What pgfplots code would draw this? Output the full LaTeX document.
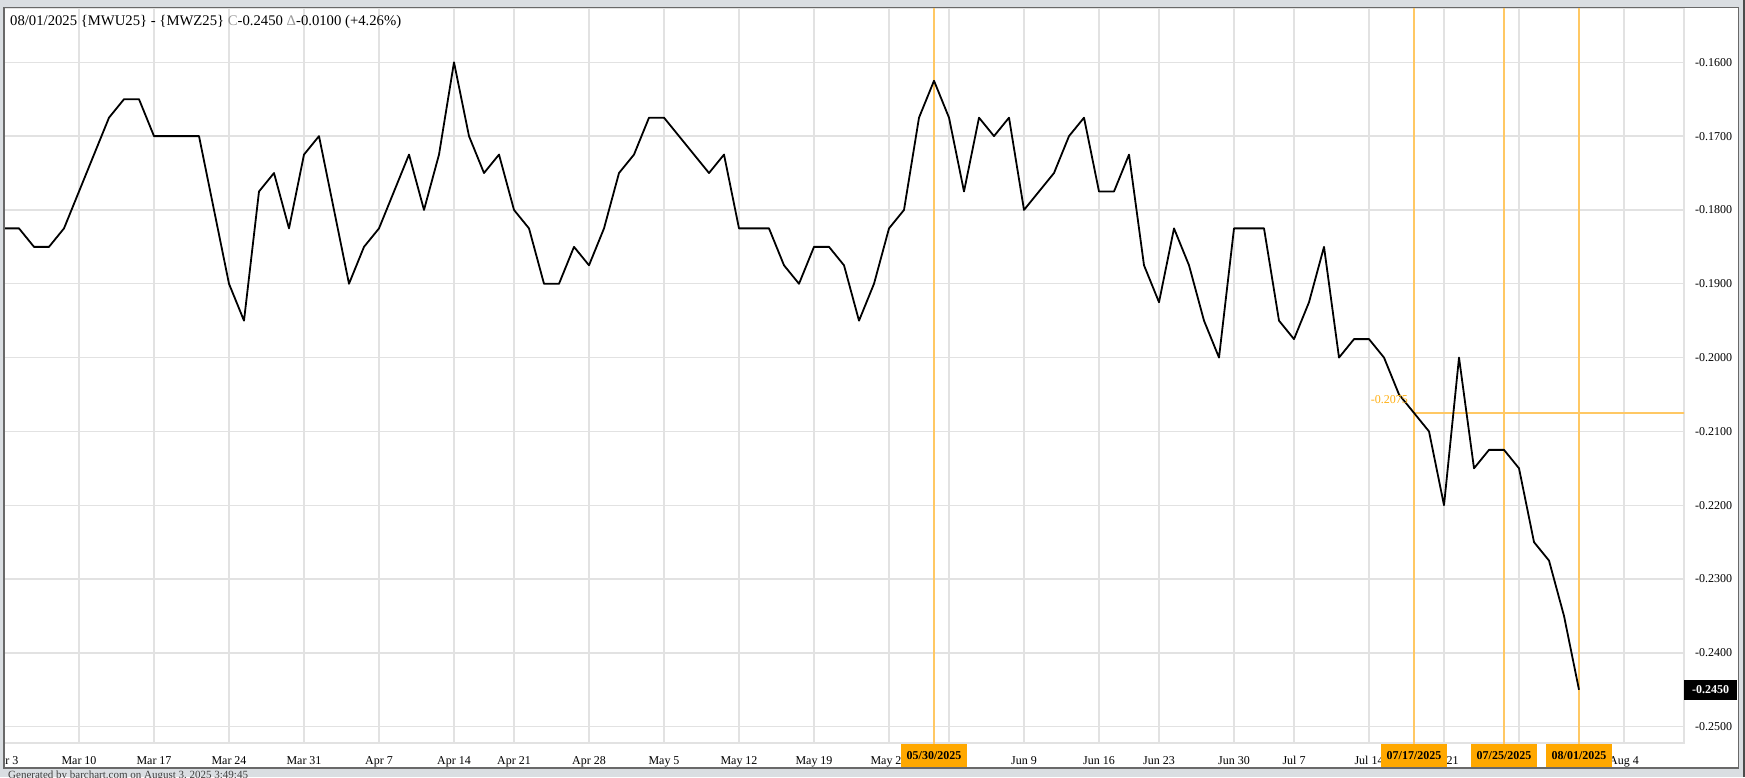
\documentclass[border=0pt]{standalone}
\usepackage{pgfplots}
\pgfplotsset{compat=1.18}
\usepackage{fontspec}
\setmainfont{Liberation Serif}
\definecolor{bggray}{RGB}{218,222,226}
\definecolor{framec}{RGB}{105,105,105}
\definecolor{gridc}{RGB}{226,226,226}
\definecolor{olight}{RGB}{255,200,100}
\definecolor{obox}{RGB}{255,168,0}
\definecolor{otext}{RGB}{255,176,20}
\begin{document}
\begin{tikzpicture}
\path[use as bounding box] (0pt,0pt) rectangle (1745pt,777pt);
\fill[bggray] (0pt,0pt) rectangle (1745pt,777pt);
\fill[white] (4pt,9pt) rectangle (1738.5pt,769.2pt);
\node[anchor=north west, inner sep=0pt, font=\fontsize{11}{13}\selectfont, text=black!75] at (8pt,6.5pt) {Generated by barchart.com on August 3, 2025 3:49:45};
\begin{axis}[
  at={(4pt,34pt)}, anchor=south west,
  scale only axis, width=1680pt, height=735pt,
  xmin=-5, xmax=107, ymin=-0.252208, ymax=-0.152644,
  axis line style={gridc, line width=1.3pt},
  grid=major, grid style={gridc, line width=1.3pt},
  major tick length=0pt,
  xtick={-5,0,5,10,15,20,25,29,34,39,44,49,54,58,63,68,72,77,81,86,91,96,103},
  xticklabels={Mar 3,Mar 10,Mar 17,Mar 24,Mar 31,Apr 7,Apr 14,Apr 21,Apr 28,May 5,May 12,May 19,May 26,Jun 2,Jun 9,Jun 16,Jun 23,Jun 30,Jul 7,Jul 14,Jul 21,Jul 28,Aug 4},
  ytick={-0.25,-0.24,-0.23,-0.22,-0.21,-0.20,-0.19,-0.18,-0.17,-0.16},
  yticklabels={-0.2500,-0.2400,-0.2300,-0.2200,-0.2100,-0.2000,-0.1900,-0.1800,-0.1700,-0.1600},
  yticklabel pos=right,
  ticklabel style={font=\fontsize{12}{14}\selectfont},
  xticklabel style={anchor=base, inner sep=0pt, yshift=-21pt},
  yticklabel style={anchor=west, inner sep=0pt, xshift=11pt},
  clip=true,
]
\addplot[olight, line width=1.4pt] coordinates {(57,-0.26) (57,-0.15)};
\addplot[olight, line width=1.4pt] coordinates {(89,-0.26) (89,-0.15)};
\addplot[olight, line width=1.4pt] coordinates {(95,-0.26) (95,-0.15)};
\addplot[olight, line width=1.4pt] coordinates {(100,-0.26) (100,-0.15)};
\addplot[olight, line width=1.4pt] coordinates {(89,-0.2075) (108,-0.2075)};
\addplot[black, line width=1.8pt, line join=round] coordinates {
(-5,-0.1825) (-4,-0.1825) (-3,-0.185) (-2,-0.185) (-1,-0.1825)
(0,-0.1775) (1,-0.1725) (2,-0.1675) (3,-0.165) (4,-0.165)
(5,-0.17) (6,-0.17) (7,-0.17) (8,-0.17) (9,-0.18)
(10,-0.19) (11,-0.195) (12,-0.1775) (13,-0.175) (14,-0.1825)
(15,-0.1725) (16,-0.17) (17,-0.18) (18,-0.19) (19,-0.185)
(20,-0.1825) (21,-0.1775) (22,-0.1725) (23,-0.18) (24,-0.1725)
(25,-0.16) (26,-0.17) (27,-0.175) (28,-0.1725)
(29,-0.18) (30,-0.1825) (31,-0.19) (32,-0.19) (33,-0.185)
(34,-0.1875) (35,-0.1825) (36,-0.175) (37,-0.1725) (38,-0.1675)
(39,-0.1675) (40,-0.17) (41,-0.1725) (42,-0.175) (43,-0.1725)
(44,-0.1825) (45,-0.1825) (46,-0.1825) (47,-0.1875) (48,-0.19)
(49,-0.185) (50,-0.185) (51,-0.1875) (52,-0.195) (53,-0.19)
(54,-0.1825) (55,-0.18) (56,-0.1675) (57,-0.1625)
(58,-0.1675) (59,-0.1775) (60,-0.1675) (61,-0.17) (62,-0.1675)
(63,-0.18) (64,-0.1775) (65,-0.175) (66,-0.17) (67,-0.1675)
(68,-0.1775) (69,-0.1775) (70,-0.1725) (71,-0.1875)
(72,-0.1925) (73,-0.1825) (74,-0.1875) (75,-0.195) (76,-0.20)
(77,-0.1825) (78,-0.1825) (79,-0.1825) (80,-0.195)
(81,-0.1975) (82,-0.1925) (83,-0.185) (84,-0.20) (85,-0.1975)
(86,-0.1975) (87,-0.20) (88,-0.205) (89,-0.2075) (90,-0.21)
(91,-0.22) (92,-0.20) (93,-0.215) (94,-0.2125) (95,-0.2125)
(96,-0.215) (97,-0.225) (98,-0.2275) (99,-0.235) (100,-0.245)
};
\coordinate (d1) at (axis cs:57,-0.252208);
\coordinate (d2) at (axis cs:89,-0.252208);
\coordinate (d3) at (axis cs:95,-0.252208);
\coordinate (d4) at (axis cs:100,-0.252208);
\coordinate (last) at (axis cs:107,-0.245);
\coordinate (cross) at (axis cs:89,-0.2075);
\end{axis}
\tikzset{datebox/.style={fill=obox, anchor=north, minimum width=66pt, minimum height=23pt, inner sep=0pt, yshift=-1pt, font=\bfseries\fontsize{12}{14}\selectfont}}
\node[datebox] at (d1) {05/30/2025};
\node[datebox] at (d2) {07/17/2025};
\node[datebox] at (d3) {07/25/2025};
\node[datebox] at (d4) {08/01/2025};
\node[fill=black, text=white, anchor=west, minimum width=53pt, minimum height=20pt, inner sep=0pt, font=\bfseries\fontsize{12}{14}\selectfont] at (last) {-0.2450};
\node[anchor=base east, inner sep=0pt, xshift=-6pt, yshift=9.5pt, text=otext, font=\fontsize{12}{14}\selectfont] at (cross) {-0.2075};
\node[anchor=base west, inner sep=0pt, font=\fontsize{14.7}{17}\selectfont] at (10pt,751pt) {08/01/2025 \{MWU25\} - \{MWZ25\} {\color{black!40}C}-0.2450 {\color{black!40}Δ}-0.0100 (+4.26\%)};
\fill[bggray] (0pt,0pt) rectangle (3.4pt,777pt);
\draw[framec, line width=1.2pt] (4pt,9pt) rectangle (1738.5pt,769.2pt);
\draw[black!70, line width=1.5pt] (1744.2pt,0pt) -- (1744.2pt,777pt);
\end{tikzpicture}
\end{document}
